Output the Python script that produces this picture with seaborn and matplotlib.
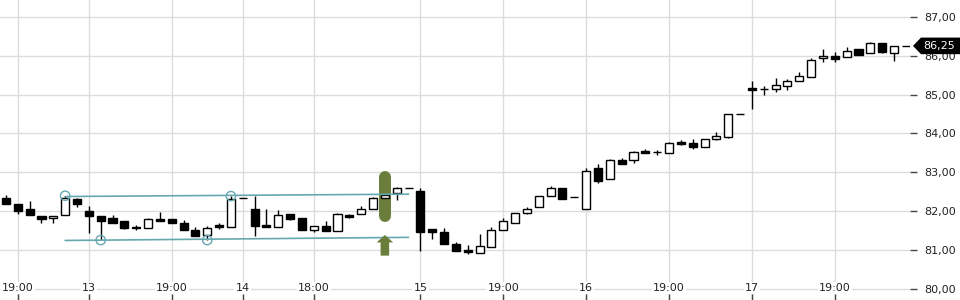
import numpy as np
import pandas as pd
import matplotlib
matplotlib.use("Agg")
import matplotlib.pyplot as plt
import seaborn as sns
from matplotlib.patches import Polygon

# ---------------- data ----------------
opens = [82.35, 82.20, 82.05, 81.89, 81.82, 81.90, 82.31, 82.01, 81.88, 81.82,
         81.74, 81.60, 81.58, 81.79, 81.79, 81.70, 81.53, 81.39, 81.65, 81.59,
         82.33, 82.06, 81.66, 81.59, 81.92, 81.82, 81.53, 81.62, 81.50, 81.90,
         81.92, 82.07, 82.33, 82.46, 82.59, 82.52, 81.54, 81.47, 81.17, 81.00,
         80.92, 81.07, 81.53, 81.71, 81.95, 82.10, 82.39, 82.61, 82.36, 82.07,
         83.10, 82.82, 83.32, 83.31, 83.55, 83.52, 83.51, 83.79, 83.76, 83.64,
         83.86, 83.92, 84.50, 85.16, 85.13, 85.15, 85.23, 85.35, 85.44, 85.93,
         85.99, 85.96, 86.16, 86.06, 86.32, 86.08, 86.25]
highs = [82.42, 82.20, 82.27, 81.89, 81.89, 82.40, 82.33, 82.13, 81.88, 81.90,
         81.74, 81.65, 81.82, 81.99, 81.79, 81.78, 81.59, 81.63, 81.71, 82.39,
         82.33, 82.39, 82.06, 82.03, 81.92, 81.82, 81.62, 81.75, 81.95, 81.94,
         82.13, 82.37, 82.45, 82.62, 82.59, 82.59, 81.54, 81.58, 81.21, 81.13,
         81.41, 81.60, 81.84, 81.95, 82.12, 82.39, 82.66, 82.61, 82.36, 83.12,
         83.21, 83.34, 83.37, 83.55, 83.60, 83.58, 83.77, 83.83, 83.86, 83.87,
         84.04, 84.50, 84.50, 85.35, 85.22, 85.42, 85.40, 85.57, 85.93, 86.16,
         86.10, 86.21, 86.16, 86.34, 86.32, 86.25, 86.25]
lows = [82.20, 81.92, 81.90, 81.70, 81.71, 81.90, 82.12, 81.43, 81.26, 81.70,
        81.55, 81.53, 81.58, 81.75, 81.70, 81.53, 81.37, 81.26, 81.54, 81.59,
        82.33, 81.37, 81.60, 81.59, 81.77, 81.53, 81.47, 81.50, 81.50, 81.82,
        81.92, 82.07, 82.33, 82.28, 82.59, 80.98, 81.30, 81.15, 80.98, 80.90,
        80.92, 81.07, 81.53, 81.69, 81.92, 82.10, 82.39, 82.31, 82.36, 82.05,
        82.72, 82.82, 83.22, 83.25, 83.50, 83.45, 83.51, 83.71, 83.61, 83.64,
        83.83, 83.89, 84.50, 84.62, 85.00, 85.07, 85.12, 85.35, 85.44, 85.84,
        85.84, 85.96, 86.02, 86.06, 86.08, 85.87, 86.25]
closes = [82.20, 82.01, 81.90, 81.79, 81.89, 82.35, 82.19, 81.89, 81.76, 81.70,
          81.58, 81.56, 81.80, 81.75, 81.70, 81.53, 81.37, 81.58, 81.60, 82.31,
          82.33, 81.63, 81.60, 81.90, 81.80, 81.53, 81.62, 81.50, 81.93, 81.85,
          82.07, 82.33, 82.43, 82.59, 82.59, 81.46, 81.46, 81.15, 80.98, 80.96,
          81.11, 81.53, 81.75, 81.95, 82.07, 82.39, 82.61, 82.31, 82.36, 83.04,
          82.78, 83.32, 83.22, 83.53, 83.50, 83.52, 83.75, 83.74, 83.66, 83.87,
          83.93, 84.50, 84.50, 85.12, 85.13, 85.24, 85.35, 85.47, 85.90, 85.99,
          85.92, 86.13, 86.02, 86.32, 86.10, 86.25, 86.25]

tick_pos = [1, 7, 14, 20, 26, 35, 42, 49, 56, 63, 70]
tick_labels = ["19:00", "13", "19:00", "14", "18:00", "15", "19:00", "16",
               "19:00", "17", "19:00"]
y_ticks = [80, 81, 82, 83, 84, 85, 86, 87]
last_price = 86.25

upper_x = [5, 34]
upper_y = [82.38, 82.44]
lower_x = [5, 34]
lower_y = [81.25, 81.33]
pivot_idx = [5, 8, 17, 19]
pivot_val = [82.40, 81.26, 81.26, 82.39]

signal_idx = 32
pill_low, pill_high = 81.87, 82.89
arrow_tip, arrow_neck, arrow_base = 81.39, 81.20, 80.86

# ---------------- style ----------------
sns.set_theme(style="whitegrid")
plt.rcParams['font.family'] = ['DejaVu Sans']

W, H = 960, 300
fig = plt.figure(figsize=(W / 100, H / 100), dpi=100)
ax = fig.add_axes([0, 0, 910 / W, 1])
ax.set_facecolor('white')

df = pd.DataFrame({"idx": np.arange(len(opens)), "open": opens, "high": highs,
                   "low": lows, "close": closes})
up = df["close"] >= df["open"]

# wicks
ax.vlines(df["idx"], df["low"], df["high"], color='black', lw=1.0, zorder=2)
# bodies
bottom = np.minimum(df["open"], df["close"])
height = (df["close"] - df["open"]).abs()
ax.bar(df["idx"], height, bottom=bottom, width=0.68,
       color=np.where(up, 'white', 'black'), edgecolor='black',
       linewidth=1.0, zorder=3)

# trend lines and pivots
teal = '#66a8b0'
ax.plot(upper_x, upper_y, color=teal, lw=1.2, zorder=4)
ax.plot(lower_x, lower_y, color=teal, lw=1.2, zorder=4)
piv = pd.DataFrame({"x": pivot_idx, "y": pivot_val})
sns.scatterplot(data=piv, x="x", y="y", ax=ax, s=45, facecolor='none',
                edgecolor=teal, linewidth=1.0, zorder=5, legend=False)

# signal pill and arrow
green = '#6a7d3b'
ax.plot([signal_idx, signal_idx], [pill_low, pill_high], color=green,
        lw=8.6, solid_capstyle='round', zorder=2.5)
hw, sw = 0.70, 0.36
ax.fill([signal_idx, signal_idx + hw, signal_idx + sw, signal_idx + sw,
         signal_idx - sw, signal_idx - sw, signal_idx - hw],
        [arrow_tip, arrow_neck, arrow_neck, arrow_base, arrow_base,
         arrow_neck, arrow_neck], color=green, lw=0, zorder=4)

# axes
ax.set_xlim(-0.503, 76.35)
ax.set_ylim(79.72, 87.43)
ax.set_xticks(tick_pos)
ax.set_xticklabels([''] * len(tick_pos))
ax.set_yticks(y_ticks)
ax.set_yticklabels([f"{v:.2f}".replace('.', ',') for v in y_ticks])
ax.yaxis.tick_right()
ax.grid(True, color='#dddddd', lw=1.0)
ax.set_axisbelow(True)
for s in ax.spines.values():
    s.set_visible(False)
ax.tick_params(axis='y', length=5, width=1, color='#444444', pad=5,
               labelsize=8, labelcolor='#222222', right=True, left=False)
ax.tick_params(axis='x', direction='in', length=4, width=1, color='#444444',
               bottom=True)
ax.set_xlabel('')
ax.set_ylabel('')

for p, lab in zip(tick_pos, tick_labels):
    ax.text(p, 0.03, lab, transform=ax.get_xaxis_transform(), ha='center',
            va='baseline', fontsize=8, color='#222222', zorder=6,
            bbox=dict(facecolor='white', edgecolor='none', pad=1.0))

# last price tag
yc = 16.7 + (87 - last_price) * 38.9
tag = Polygon([(913 / W, 1 - yc / H), (921 / W, 1 - (yc - 8.3) / H),
               (1.0, 1 - (yc - 8.3) / H), (1.0, 1 - (yc + 8.3) / H),
               (921 / W, 1 - (yc + 8.3) / H)],
              closed=True, transform=fig.transFigure, facecolor='black',
              edgecolor='none', zorder=5)
fig.patches.append(tag)
fig.text(939 / W, 1 - yc / H, f"{last_price:.2f}".replace('.', ','),
         color='white', fontsize=8, ha='center', va='center', zorder=6)

fig.savefig("out.png", dpi=100)
